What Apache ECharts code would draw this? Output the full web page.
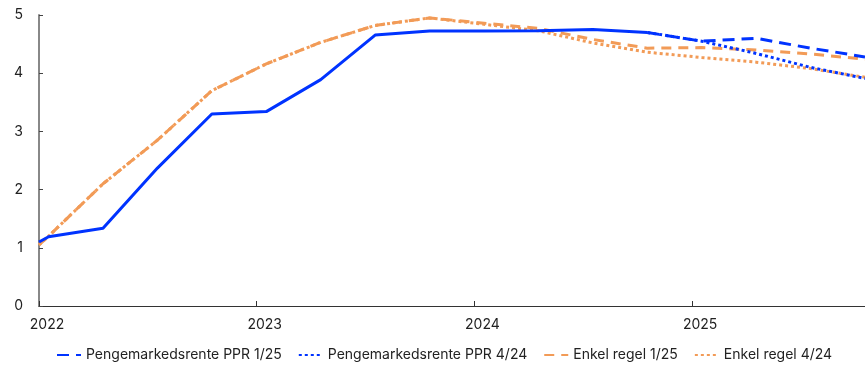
<!DOCTYPE html>
<html>
<head>
    <meta charset="utf-8">
    <title>Pengemarkedsrente og enkel regel</title>
    <script src="https://cdn.jsdelivr.net/npm/echarts@6/dist/echarts.min.js"></script>
</head>
<body style="margin:0">
    <div id="main" style="width: 865px;height:367px;"></div>
    <script type="text/javascript">
        // decimal years, one point per quarter (first point is start of 2022)
        var quarters = [2022.0, 2022.044, 2022.294, 2022.544, 2022.794, 2023.044, 2023.294, 2023.544, 2023.794,
            2024.044, 2024.294, 2024.544, 2024.794, 2025.044, 2025.294, 2025.544, 2025.794];
        var yearTicks = [2022, 2023, 2024, 2025];

        // historical money market rate (solid)
        var pengeHist = [1.10, 1.19, 1.335, 2.37, 3.30, 3.34, 3.89, 4.655, 4.725, 4.725, 4.73, 4.75, 4.70,
            null, null, null, null];
        var ppr125 = [null, null, null, null, null, null, null, null, null, null, null, null, 4.70,
            4.55, 4.60, 4.43, 4.28];
        var ppr424 = [null, null, null, null, null, null, null, null, null, null, null, null, 4.70,
            4.55, 4.34, 4.10, 3.91];
        var regel125 = [1.05, 1.20, 2.10, 2.85, 3.70, 4.16, 4.53, 4.82, 4.95, 4.86, 4.77, 4.58, 4.43,
            4.44, 4.40, 4.33, 4.24];
        var regel424 = [1.05, 1.20, 2.10, 2.85, 3.70, 4.16, 4.53, 4.82, 4.95, 4.84, 4.73, 4.52, 4.36,
            4.27, 4.19, 4.08, 3.93];

        var blue = '#0033ff';
        var orange = '#f29b57';
        var font = 'Inter, "Noto Sans", sans-serif';

        function pairs(vals) {
            var out = [];
            for (var i = 0; i < quarters.length; i++) {
                out.push([quarters[i], vals[i]]);
            }
            return out;
        }

        function line(name, vals, color, dash, z) {
            return {
                name: name,
                type: 'line',
                data: pairs(vals),
                symbol: 'none',
                z: z,
                lineStyle: { color: color, width: 3, type: dash },
                itemStyle: { color: color }
            };
        }

        var myChart = echarts.init(document.getElementById('main'));
        var option = {
            animation: false,
            textStyle: { fontFamily: font },
            grid: { left: 39, right: 0, top: 15, bottom: 61 },
            legend: {
                data: ['Pengemarkedsrente PPR 1/25', 'Pengemarkedsrente PPR 4/24', 'Enkel regel 1/25', 'Enkel regel 4/24'],
                left: 51,
                top: 343,
                itemWidth: 24,
                itemHeight: 14,
                itemGap: 16,
                itemStyle: { opacity: 0, borderWidth: 0 },
                textStyle: { fontSize: 14, color: '#222', fontFamily: font }
            },
            xAxis: {
                type: 'value',
                min: 2022,
                max: 2025.794,
                splitLine: { show: false },
                axisLine: { lineStyle: { color: '#333', width: 1 } },
                axisTick: { inside: true, length: 5, customValues: yearTicks, lineStyle: { color: '#333' } },
                axisLabel: {
                    customValues: yearTicks,
                    formatter: function (v) { return String(Math.round(v)); },
                    fontSize: 14,
                    color: '#222',
                    margin: 12,
                    padding: [0, 0, 0, 16]
                }
            },
            yAxis: {
                type: 'value',
                min: 0,
                max: 5,
                interval: 1,
                splitLine: { show: false },
                axisLine: { show: true, lineStyle: { color: '#888', width: 2 } },
                axisTick: { show: true, inside: true, length: 4, lineStyle: { color: '#444' } },
                axisLabel: { fontSize: 14, color: '#222', margin: 16 }
            },
            series: [
                line('Enkel regel 1/25', regel125, orange, [10, 7], 2),
                line('Enkel regel 4/24', regel424, orange, [3, 3], 2),
                line('Pengemarkedsrente PPR 1/25', ppr125, blue, [12, 7], 3),
                line('Pengemarkedsrente PPR 4/24', ppr424, blue, [3, 3], 3),
                line('hist', pengeHist, blue, 'solid', 4)
            ]
        };
        myChart.setOption(option);
    </script>
</body>
</html>
